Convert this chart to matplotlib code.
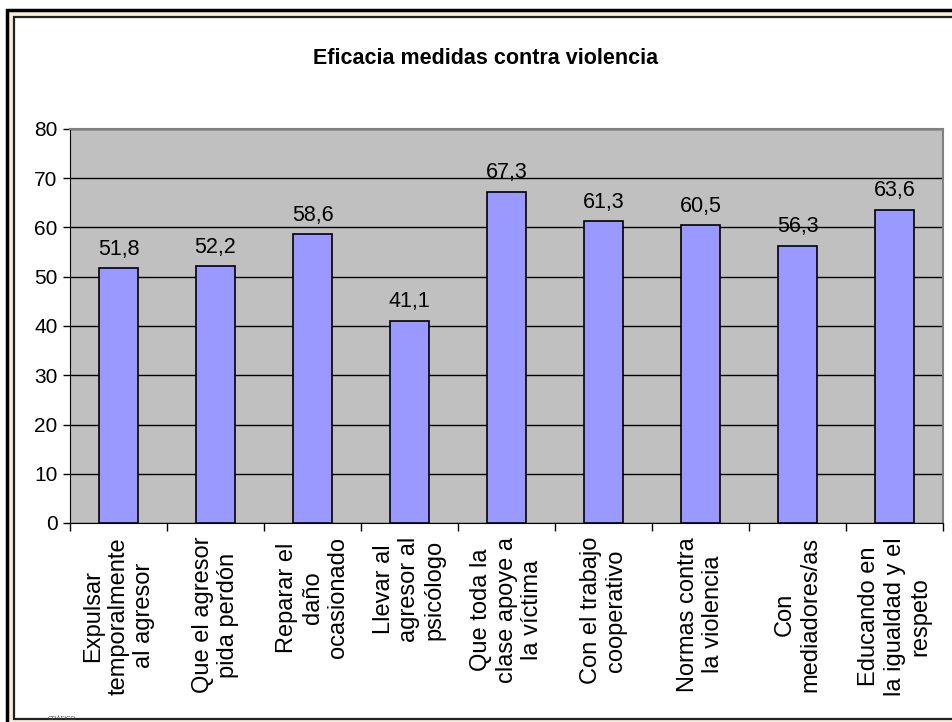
import matplotlib
matplotlib.use("Agg")
import matplotlib.pyplot as plt
from matplotlib.patches import Rectangle
import numpy as np

plt.rcParams['font.family'] = ['Liberation Sans', 'DejaVu Sans']

# datos
categorias = [
    "Expulsar\ntemporalmente\nal agresor",
    "Que el agresor\npida perdón",
    "Reparar el\ndaño\nocasionado",
    "Llevar al\nagresor al\npsicólogo",
    "Que toda la\nclase apoye a\nla víctima",
    "Con el trabajo\ncooperativo",
    "Normas contra\nla violencia",
    "Con\nmediadores/as",
    "Educando en\nla igualdad y el\nrespeto",
]
valores = [51.8, 52.2, 58.6, 41.1, 67.3, 61.3, 60.5, 56.3, 63.6]
yticks = [0, 10, 20, 30, 40, 50, 60, 70, 80]
titulo = "Eficacia medidas contra violencia"

W, H = 953, 722
fig = plt.figure(figsize=(W / 100, H / 100), dpi=100)
fig.patch.set_facecolor("white")

# marco (borde negro + franja crema + línea interior), detrás de los ejes
fig.patches.append(Rectangle((7 / W, -0.05), 1.1, 1 - 10 / H + 0.05,
                             transform=fig.transFigure, facecolor="#f8eedb",
                             edgecolor="black", lw=2.5, zorder=-2))
fig.patches.append(Rectangle((14 / W, 3 / H), 1.1, 1 - 20 / H,
                             transform=fig.transFigure, facecolor="white",
                             edgecolor="#222222", lw=1.6, zorder=-1))

ax = fig.add_axes([70 / W, 1 - 523 / H, (943 - 70) / W, (523 - 129) / H])
ax.set_facecolor("#c0c0c0")

x = np.arange(len(valores))
ax.bar(x, valores, width=0.4, color="#9999ff", edgecolor="black", lw=1.2, zorder=3)

for xi, v in zip(x, valores):
    ax.annotate(f"{v:.1f}".replace(".", ","), (xi, v), xytext=(0, 6),
                textcoords="offset points", ha="center", va="bottom", fontsize=15.5)

ax.set_xlim(-0.5, len(valores) - 0.5)
ax.set_ylim(0, 80)
ax.set_yticks(yticks)
ax.tick_params(axis="y", labelsize=15, length=5, width=1, direction="out", pad=4)
ax.yaxis.grid(True, color="black", lw=1, zorder=1)
ax.set_axisbelow(True)

# ticks de x en los límites de categoría, etiquetas en el centro
ax.set_xticks(np.arange(len(valores) + 1) - 0.5)
ax.set_xticklabels([])
ax.tick_params(axis="x", length=6, width=1, direction="out")
for xi, lab in zip(x, categorias):
    ax.annotate(lab, (xi, 0), xytext=(0, -10), textcoords="offset points",
                rotation=90, ha="center", va="top", multialignment="center",
                fontsize=17, linespacing=1.2, annotation_clip=False)

ax.spines["left"].set_color("black")
ax.spines["bottom"].set_color("black")
ax.spines["top"].set_color("#808080")
ax.spines["right"].set_color("#808080")
ax.spines["top"].set_linewidth(1.5)
ax.spines["right"].set_linewidth(1.5)

fig.text(486 / W, 1 - 58 / H, titulo, ha="center", va="center",
         fontsize=15.5, fontweight="bold")

fig.text(48 / W, 0.001, "GRÁFICO", ha="left", va="bottom", fontsize=4.5, color="#444444")

fig.savefig("out.png", dpi=100)
